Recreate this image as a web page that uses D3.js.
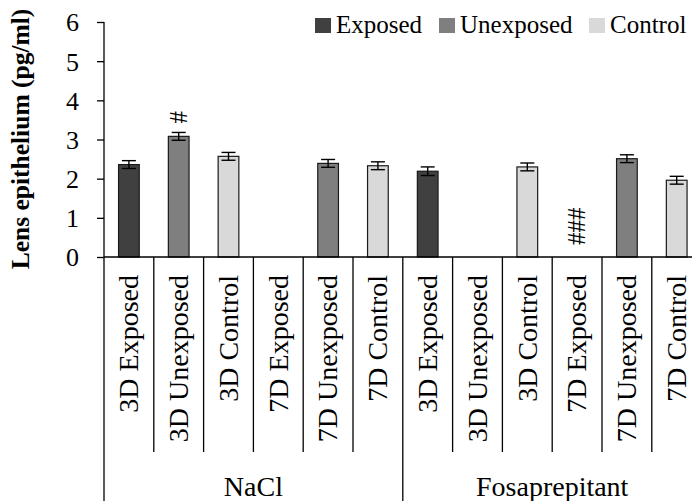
<!DOCTYPE html>
<html>
<head>
<meta charset="utf-8">
<script src="https://cdn.jsdelivr.net/npm/d3@7"></script>
<style>
  body { margin: 0; background: #fff; }
  text { font-family: "Liberation Serif", "Times New Roman", serif; fill: #000; }
</style>
</head>
<body>
<div id="chart"></div>
<script>
// data
var groups = ["NaCl", "Fosaprepitant"];
var categories = ["3D Exposed", "3D Unexposed", "3D Control", "7D Exposed", "7D Unexposed", "7D Control"];
var series = ["Exposed", "Unexposed", "Control", "Exposed", "Unexposed", "Control"];
var naclValues = [2.36, 3.08, 2.57, null, 2.39, 2.33];
var fosValues = [2.19, null, 2.30, null, 2.51, 1.96];
var naclErrors = [0.1, 0.1, 0.1, null, 0.1, 0.1];
var fosErrors = [0.11, null, 0.1, null, 0.1, 0.1];
var naclMarks = ["", "#", "", "", "", ""];
var fosMarks = ["", "", "", "###", "", ""];
var legendNames = ["Exposed", "Unexposed", "Control"];
var yTicks = [0, 1, 2, 3, 4, 5, 6];

var colors = {Exposed: "#404040", Unexposed: "#7f7f7f", Control: "#d9d9d9"};

// build rows
var rows = [];
groups.forEach(function (g, gi) {
    var vals = gi === 0 ? naclValues : fosValues;
    var errs = gi === 0 ? naclErrors : fosErrors;
    var marks = gi === 0 ? naclMarks : fosMarks;
    categories.forEach(function (c, i) {
        rows.push({key: g + "|" + c, group: g, cat: c, series: series[i], value: vals[i], err: errs[i], mark: marks[i]});
    });
});

var width = 692, height = 501;
var plotLeft = 104, plotRight = 701.6, plotTop = 22, plotBottom = 257;

var svg = d3.select("#chart")
    .append("svg")
    .attr("width", width)
    .attr("height", height);

var x = d3.scaleBand()
    .domain(rows.map(function (d) { return d.key; }))
    .range([plotLeft, plotRight])
    .paddingInner(0)
    .paddingOuter(0);

var bw = 20.7;

var y = d3.scaleLinear()
    .domain([0, 6])
    .range([plotBottom, plotTop]);

// y axis
var yAxis = svg.append("g")
    .attr("transform", "translate(" + plotLeft + ",0)")
    .call(d3.axisLeft(y).tickValues(yTicks).tickSize(7).tickPadding(18).tickFormat(d3.format("d")));
yAxis.select(".domain").attr("stroke", "#000").attr("stroke-width", 1.3).attr("d", "M0," + plotTop + "V" + plotBottom);
yAxis.selectAll(".tick line").attr("stroke", "#000").attr("stroke-width", 1.3);
yAxis.selectAll(".tick text")
    .attr("font-size", 26)
    .attr("font-family", "Liberation Serif, serif")
    .attr("dy", "0.34em");

// y title
svg.append("text")
    .attr("transform", "translate(29,139) rotate(-90)")
    .attr("text-anchor", "middle")
    .attr("font-size", 25.5)
    .attr("font-weight", "bold")
    .text("Lens epithelium (pg/ml)");

// bars
var bars = rows.filter(function (d) { return d.value != null; });
svg.selectAll(".bar")
    .data(bars)
    .enter().append("rect")
    .attr("class", "bar")
    .attr("x", function (d) { return x(d.key) + (x.bandwidth() - bw) / 2; })
    .attr("width", bw)
    .attr("y", function (d) { return y(d.value); })
    .attr("height", function (d) { return y(0) - y(d.value); })
    .attr("fill", function (d) { return colors[d.series]; })
    .attr("stroke", "#1a1a1a")
    .attr("stroke-width", 1.2);

// error bars
var eb = svg.selectAll(".err")
    .data(bars)
    .enter().append("g")
    .attr("class", "err")
    .attr("stroke", "#000")
    .attr("stroke-width", 1.4);
eb.append("line")
    .attr("x1", function (d) { return x(d.key) + x.bandwidth() / 2; })
    .attr("x2", function (d) { return x(d.key) + x.bandwidth() / 2; })
    .attr("y1", function (d) { return y(d.value + d.err); })
    .attr("y2", function (d) { return y(d.value - d.err); });
[1, -1].forEach(function (s) {
    eb.append("line")
        .attr("x1", function (d) { return x(d.key) + x.bandwidth() / 2 - 7; })
        .attr("x2", function (d) { return x(d.key) + x.bandwidth() / 2 + 7; })
        .attr("y1", function (d) { return y(d.value + s * d.err); })
        .attr("y2", function (d) { return y(d.value + s * d.err); });
});

// significance marks
svg.selectAll(".mark")
    .data(rows.filter(function (d) { return d.mark; }))
    .enter().append("text")
    .attr("class", "mark")
    .attr("transform", function (d) {
        var cx = x(d.key) + x.bandwidth() / 2;
        var base = d.value != null ? y(d.value + d.err) - 9 : y(0) - 12;
        return "translate(" + cx + "," + base + ") rotate(-90)";
    })
    .attr("dy", "0.33em")
    .attr("font-size", 25)
    .text(function (d) { return d.mark; });

// x axis line and separators
svg.append("line")
    .attr("x1", plotLeft).attr("x2", plotRight)
    .attr("y1", plotBottom).attr("y2", plotBottom)
    .attr("stroke", "#000").attr("stroke-width", 1.4);

var bounds = rows.map(function (d, i) { return i; }).concat([rows.length]);
svg.selectAll(".sep")
    .data(bounds)
    .enter().append("line")
    .attr("class", "sep")
    .attr("x1", function (i) { return plotLeft + i * x.bandwidth(); })
    .attr("x2", function (i) { return plotLeft + i * x.bandwidth(); })
    .attr("y1", plotBottom)
    .attr("y2", function (i) { return i % categories.length === 0 ? height : 452; })
    .attr("stroke", "#000")
    .attr("stroke-width", 1.3);

// category labels
svg.selectAll(".cat")
    .data(rows)
    .enter().append("text")
    .attr("class", "cat")
    .attr("transform", function (d) {
        return "translate(" + (x(d.key) + x.bandwidth() / 2) + ",275) rotate(-90)";
    })
    .attr("text-anchor", "end")
    .attr("dy", "0.33em")
    .attr("font-size", 28)
    .text(function (d) { return d.cat; });

// group labels
svg.selectAll(".grp")
    .data(groups)
    .enter().append("text")
    .attr("class", "grp")
    .attr("x", function (g, gi) { return plotLeft + (gi * categories.length + categories.length / 2) * x.bandwidth(); })
    .attr("y", 496)
    .attr("text-anchor", "middle")
    .attr("font-size", 28)
    .text(function (g) { return g; });

// legend
var legendX = [315, 439, 589];
var legend = svg.selectAll(".leg")
    .data(legendNames)
    .enter().append("g")
    .attr("class", "leg")
    .attr("transform", function (d, i) { return "translate(" + legendX[i] + ",18)"; });
legend.append("rect")
    .attr("width", 16)
    .attr("height", 15)
    .attr("fill", function (d) { return colors[d]; });
legend.append("text")
    .attr("x", 21)
    .attr("y", 14.5)
    .attr("font-size", 25)
    .text(function (d) { return d; });
</script>
</body>
</html>
